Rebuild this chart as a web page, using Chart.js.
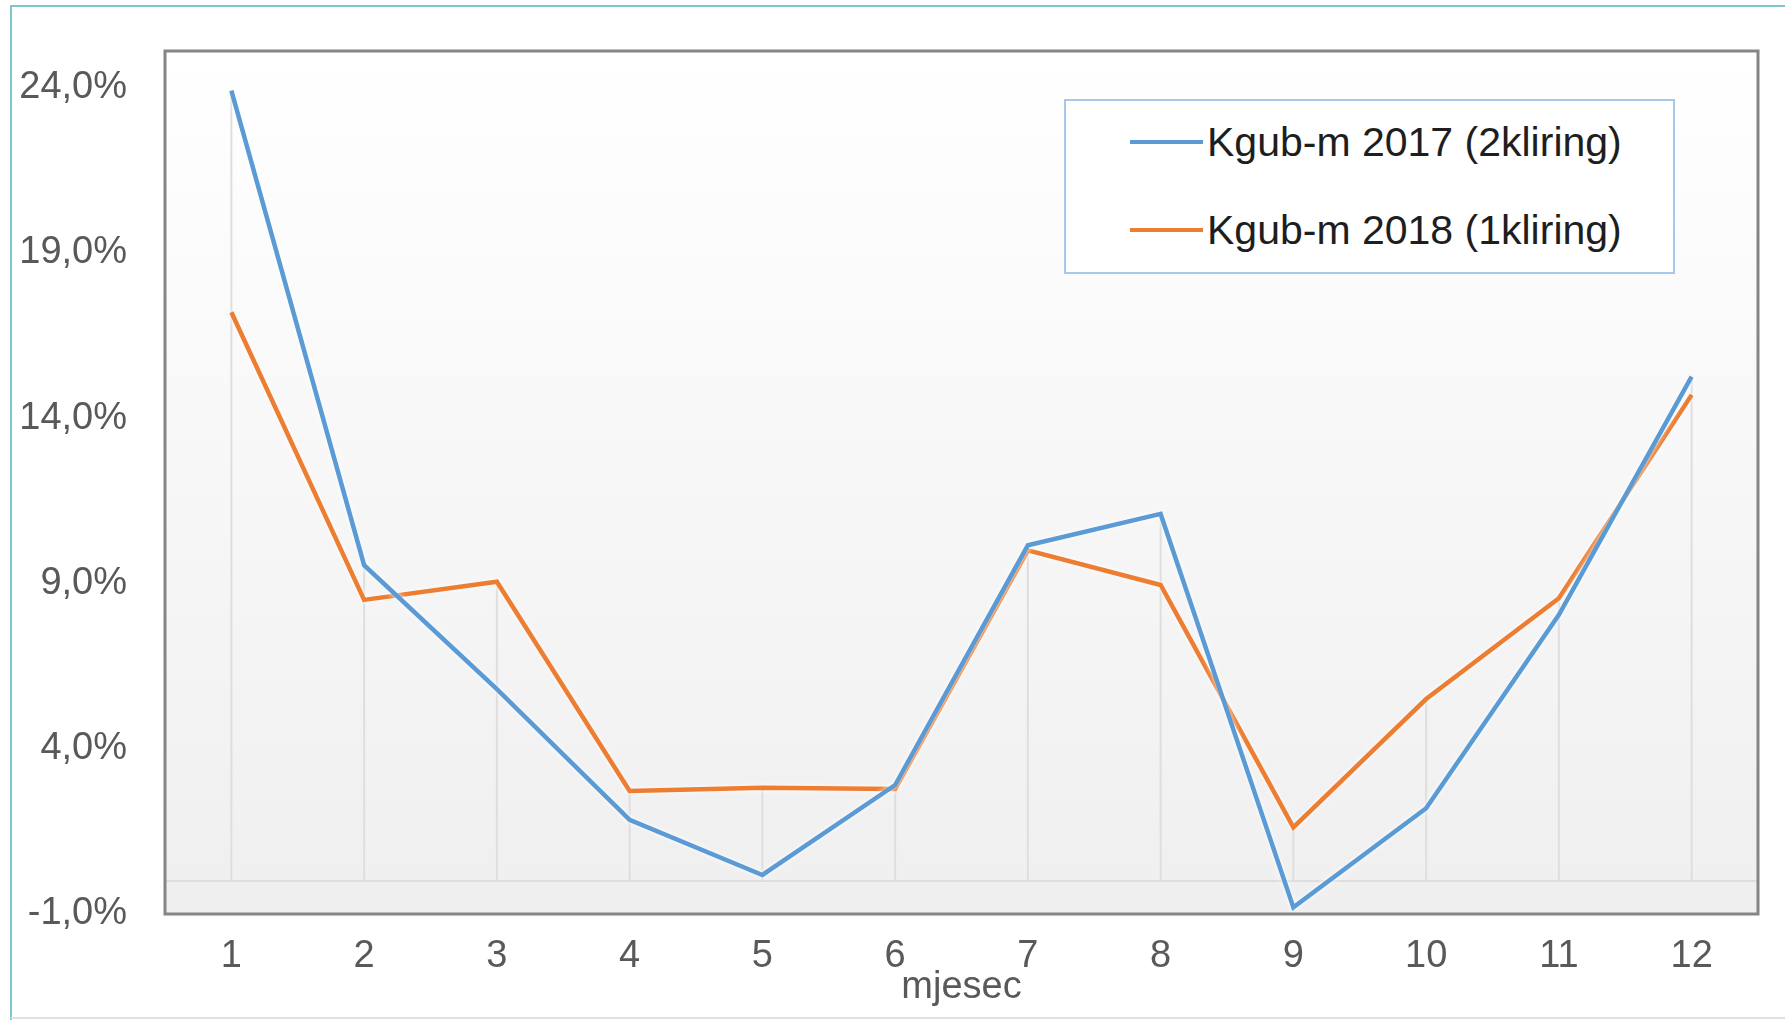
<!DOCTYPE html>
<html>
<head>
<meta charset="utf-8">
<title>Kgub-m 2017 / 2018</title>
<script src="https://cdn.jsdelivr.net/npm/chart.js@4.4.0/dist/chart.umd.min.js"></script>
<style>
    html, body { margin: 0; padding: 0; background: #fff; }
    #wrap { position: relative; width: 1785px; height: 1020px; }
    #legend {
        position: absolute; left: 1064px; top: 99px;
        width: 607px; height: 171px;
        border: 2px solid #a8c8ea; background: #fff;
        font-family: "Liberation Sans", Arial, sans-serif;
    }
    #legend .item { position: absolute; left: 64px; height: 48px; display: flex; align-items: center; }
    #legend .swatch { width: 73px; height: 4px; margin-right: 4px; }
    #legend .label { font-size: 41px; color: #1e1e1e; line-height: 48px; white-space: nowrap; }
</style>
</head>
<body>
<div id="wrap">
    <canvas id="chart" width="1785" height="1020"></canvas>
    <div id="legend"></div>
</div>
<script>
const months = ['1', '2', '3', '4', '5', '6', '7', '8', '9', '10', '11', '12'];
const kgub2017 = [23.9, 9.55, 5.8, 1.85, 0.18, 2.9, 10.15, 11.1, -0.8, 2.2, 8.05, 15.25];
const kgub2018 = [17.2, 8.5, 9.05, 2.72, 2.82, 2.78, 10.0, 8.95, 1.62, 5.5, 8.55, 14.7];
const yTicks = [-1, 4, 9, 14, 19, 24];
const seriesLabels = ['Kgub-m 2017 (2kliring)', 'Kgub-m 2018 (1kliring)'];

const fontFamily = '"Liberation Sans", Arial, sans-serif';

// frame, gradient plot background, zero line and drop lines
const decorPlugin = {
    id: 'decor',
    beforeDraw(chart) {
        const ctx = chart.ctx;
        const a = chart.chartArea;
        ctx.save();
        ctx.fillStyle = '#fff';
        ctx.fillRect(0, 0, chart.width, chart.height);

        // outer frame
        ctx.strokeStyle = '#7cc6ce';
        ctx.lineWidth = 2;
        ctx.beginPath();
        ctx.moveTo(chart.width, 6);
        ctx.lineTo(11, 6);
        ctx.lineTo(11, chart.height);
        ctx.stroke();
        ctx.strokeStyle = '#e0e0e0';
        ctx.beginPath();
        ctx.moveTo(11, chart.height - 2);
        ctx.lineTo(chart.width, chart.height - 2);
        ctx.stroke();

        const grad = ctx.createLinearGradient(0, a.top, 0, a.bottom);
        grad.addColorStop(0, '#ffffff');
        grad.addColorStop(1, '#efefef');
        ctx.fillStyle = grad;
        ctx.fillRect(a.left, a.top, a.right - a.left, a.bottom - a.top);
        ctx.restore();
    },
    beforeDatasetsDraw(chart) {
        const ctx = chart.ctx;
        const a = chart.chartArea;
        const x = chart.scales.x;
        const y = chart.scales.y;
        const y0 = y.getPixelForValue(0);
        ctx.save();
        ctx.strokeStyle = '#dedede';
        ctx.lineWidth = 2;
        ctx.beginPath();
        ctx.moveTo(a.left, y0);
        ctx.lineTo(a.right, y0);
        chart.data.labels.forEach((l, i) => {
            const top = Math.max(...chart.data.datasets.map(d => d.data[i]));
            const px = x.getPixelForValue(i);
            ctx.moveTo(px, y.getPixelForValue(top));
            ctx.lineTo(px, y0);
        });
        ctx.stroke();
        ctx.restore();
    },
    beforeDatasetDraw(chart) {
        chart.ctx.save();
        chart.ctx.shadowColor = 'rgba(255,255,255,0.95)';
        chart.ctx.shadowBlur = 5;
    },
    afterDatasetDraw(chart) {
        chart.ctx.restore();
    },
    afterDatasetsDraw(chart) {
        const ctx = chart.ctx;
        const a = chart.chartArea;
        ctx.save();
        ctx.strokeStyle = '#858585';
        ctx.lineWidth = 3;
        ctx.strokeRect(a.left, a.top, a.right - a.left, a.bottom - a.top);
        ctx.restore();
    }
};

// legend as html, built from the datasets
const htmlLegend = {
    id: 'htmlLegend',
    afterUpdate(chart) {
        const box = document.getElementById('legend');
        box.innerHTML = '';
        chart.data.datasets.forEach((ds, i) => {
            const item = document.createElement('div');
            item.className = 'item';
            item.style.top = (41 + i * 88 - 24) + 'px';
            const sw = document.createElement('span');
            sw.className = 'swatch';
            sw.style.background = ds.borderColor;
            const txt = document.createElement('span');
            txt.className = 'label';
            txt.textContent = ds.label;
            item.appendChild(sw);
            item.appendChild(txt);
            box.appendChild(item);
        });
    }
};

new Chart(document.getElementById('chart').getContext('2d'), {
    type: 'line',
    data: {
        labels: months,
        datasets: [{
            label: seriesLabels[0],
            data: kgub2017,
            borderColor: '#5b9bd5',
            backgroundColor: '#5b9bd5',
            borderWidth: 4.5,
            pointRadius: 0,
            tension: 0
        }, {
            label: seriesLabels[1],
            data: kgub2018,
            borderColor: '#ed7d31',
            backgroundColor: '#ed7d31',
            borderWidth: 4.5,
            pointRadius: 0,
            tension: 0
        }]
    },
    options: {
        responsive: false,
        animation: false,
        layout: { padding: { top: 51, right: 27, left: 0, bottom: 0 } },
        plugins: {
            legend: { display: false },
            tooltip: { enabled: false }
        },
        scales: {
            x: {
                offset: true,
                grid: { display: false, drawTicks: false },
                border: { display: false },
                ticks: {
                    color: '#595959',
                    padding: 20,
                    maxRotation: 0,
                    font: { family: fontFamily, size: 38 }
                },
                title: {
                    display: true,
                    text: 'mjesec',
                    color: '#595959',
                    padding: { top: 0, bottom: 10 },
                    font: { family: fontFamily, size: 38 }
                },
                afterFit(scale) { scale.height = 106; }
            },
            y: {
                min: -1,
                max: 25.1,
                grid: { display: false, drawTicks: false },
                border: { display: false },
                ticks: {
                    color: '#595959',
                    padding: 38,
                    font: { family: fontFamily, size: 38 },
                    callback: v => v.toFixed(1).replace('.', ',') + '%'
                },
                afterBuildTicks(scale) {
                    scale.ticks = yTicks.map(v => ({ value: v }));
                },
                afterFit(scale) {
                    // the label padding should not push the plot inward
                    scale.width = 165;
                    scale.paddingTop = 0;
                    scale.paddingBottom = 0;
                }
            }
        }
    },
    plugins: [decorPlugin, htmlLegend]
});
</script>
</body>
</html>
